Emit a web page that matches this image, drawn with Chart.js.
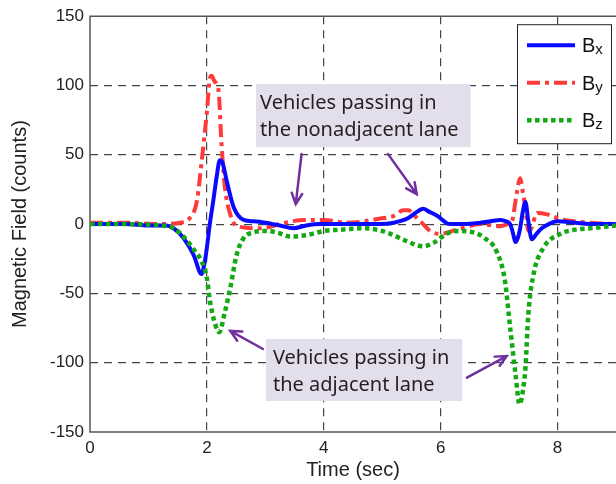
<!DOCTYPE html>
<html>
<head>
<meta charset="utf-8">
<script src="https://cdn.jsdelivr.net/npm/chart.js@4.4.1/dist/chart.umd.min.js"></script>
<style>
  html, body { margin: 0; padding: 0; background: #fff; }
</style>
</head>
<body>
<canvas id="chart" width="616" height="484"></canvas>
<script>
// time (sec) and field values (counts)
const timeBx = [0, 0.6, 1.0, 1.3, 1.43, 1.6, 1.77, 1.91, 1.96, 2.0, 2.05, 2.11, 2.17, 2.22, 2.26, 2.34, 2.46, 2.63, 2.8, 3.0, 3.25, 3.48, 3.7, 3.94, 4.3, 4.97, 5.2, 5.43, 5.6, 5.7, 5.8, 5.94, 6.16, 6.4, 6.68, 6.85, 7.02, 7.12, 7.19, 7.24, 7.28, 7.32, 7.36, 7.41, 7.45, 7.5, 7.56, 7.64, 7.73, 7.85, 7.99, 8.3, 8.56, 9.0];
const valBx  = [0, 0, -1, -1, -3, -10, -22, -36, -28, -17, 0, 17, 35, 46, 45, 31, 12, 3, 2, 1, -1, -3, -1, 0, 0, 0, 1, 4, 9, 11, 9, 6, 0, 0, 1, 2, 3, 2, 0, -7, -13, -10, -3, 10, 16, 2, -11, -7, -3, 0, 2, 1, 0, 0];

const timeBy = [0, 0.6, 1.2, 1.54, 1.71, 1.83, 1.91, 2.0, 2.05, 2.08, 2.13, 2.2, 2.25, 2.31, 2.4, 2.51, 2.91, 3.25, 3.45, 3.65, 4.0, 4.4, 4.97, 5.2, 5.36, 5.45, 5.53, 5.7, 5.82, 5.99, 6.28, 6.68, 7.02, 7.15, 7.22, 7.3, 7.36, 7.41, 7.45, 7.5, 7.55, 7.65, 7.82, 8.05, 8.56, 9.0];
const valBy  = [1, 1, 0, 1, 4.5, 17, 45, 81, 105, 107, 103, 96, 58, 26, 7, -1.5, -3, 0, 2, 3, 3, 1, 4, 6, 10, 10, 7, 0, -5, -7, -4, 0, -1.5, 0, 2, 22, 33, 22, 12, -5, -3, 8, 7, 3.6, 1, 0];

const timeBz = [0, 0.6, 1.2, 1.43, 1.6, 1.77, 1.91, 2.0, 2.05, 2.14, 2.21, 2.31, 2.4, 2.51, 2.63, 2.79, 3.0, 3.2, 3.42, 3.7, 4.0, 4.3, 4.67, 4.9, 5.14, 5.4, 5.7, 5.9, 6.1, 6.3, 6.56, 6.75, 6.96, 7.1, 7.19, 7.28, 7.35, 7.4, 7.45, 7.5, 7.59, 7.76, 8.05, 8.3, 8.56, 9.0];
const valBz  = [0, 0, -1, -3, -9, -18, -27, -39, -55, -72, -78, -63, -46, -22, -10, -6, -5, -6, -9, -8, -5, -4, -3, -4, -7, -12, -16, -13, -7, -5, -6, -10, -20, -41, -75, -108, -130, -122, -104, -65, -36, -17, -7, -4, -3, -1];

const seriesNames = ["x", "y", "z"];
const yTicks = [-150, -100, -50, 0, 50, 100, 150];
const xTicks = [0, 2, 4, 6, 8];

const noteLines = [
  ["Vehicles passing in", "the nonadjacent lane"],
  ["Vehicles passing in", "the adjacent lane"]
];

const pts = (ts, vs) => ts.map((t, i) => ({ x: t, y: vs[i] }));

const tickFont = { family: "'Liberation Sans', Arial, sans-serif", size: 17 };
const titleFont = { family: "'Liberation Sans', Arial, sans-serif", size: 20 };

// plot frame (left, top, bottom)
const framePlugin = {
  id: "frame",
  beforeDatasetsDraw(chart) {
    const { ctx, chartArea: a } = chart;
    ctx.save();
    ctx.strokeStyle = "#555";
    ctx.lineWidth = 1.5;
    ctx.beginPath();
    ctx.moveTo(a.right, a.top);
    ctx.lineTo(a.left, a.top);
    ctx.lineTo(a.left, a.bottom);
    ctx.lineTo(a.right, a.bottom);
    ctx.stroke();
    ctx.restore();
  }
};

function arrow(ctx, x0, y0, x1, y1) {
  const ang = Math.atan2(y1 - y0, x1 - x0);
  const h = 12;
  ctx.beginPath();
  ctx.moveTo(x0, y0);
  ctx.lineTo(x1, y1);
  ctx.moveTo(x1 - h * Math.cos(ang - 0.45), y1 - h * Math.sin(ang - 0.45));
  ctx.lineTo(x1, y1);
  ctx.lineTo(x1 - h * Math.cos(ang + 0.45), y1 - h * Math.sin(ang + 0.45));
  ctx.stroke();
}

const notesPlugin = {
  id: "notes",
  afterDatasetsDraw(chart) {
    const { ctx } = chart;
    const sx = chart.scales.x, sy = chart.scales.y;
    const X = v => sx.getPixelForValue(v), Y = v => sy.getPixelForValue(v);
    ctx.save();
    const boxes = [
      { x0: 2.84, x1: 6.51, y0: 101, y1: 55.5, tx: 2.91 },
      { x0: 3.01, x1: 6.37, y0: -82.9, y1: -127.6, tx: 3.13 }
    ];
    boxes.forEach((b, i) => {
      ctx.fillStyle = "#e2deeb";
      ctx.fillRect(X(b.x0), Y(b.y0), X(b.x1) - X(b.x0), Y(b.y1) - Y(b.y0));
      ctx.fillStyle = "#231f20";
      ctx.font = "20px 'Noto Sans', 'Open Sans', sans-serif";
      ctx.textBaseline = "middle";
      ctx.textAlign = "left";
      const top = Y(b.y0);
      ctx.fillText(noteLines[i][0], X(b.tx), top + 19);
      ctx.fillText(noteLines[i][1], X(b.tx), top + 46);
    });
    ctx.strokeStyle = "#7030a0";
    ctx.lineWidth = 2.5;
    ctx.lineCap = "round";
    arrow(ctx, X(3.62), Y(50.5), X(3.52), Y(14.4));
    arrow(ctx, X(5.10), Y(50.5), X(5.59), Y(21.6));
    arrow(ctx, X(2.96), Y(-90.1), X(2.40), Y(-77.1));
    arrow(ctx, X(6.45), Y(-110.8), X(7.13), Y(-95.2));
    ctx.restore();
  }
};

const legendPlugin = {
  id: "boxLegend",
  afterDraw(chart) {
    const { ctx, chartArea: a } = chart;
    const left = a.right - 99, top = a.top + 8, w = 94, h = 119;
    ctx.save();
    ctx.fillStyle = "#fff";
    ctx.fillRect(left, top, w, h);
    ctx.strokeStyle = "#222";
    ctx.lineWidth = 1;
    ctx.strokeRect(left + 0.5, top + 0.5, w, h);
    chart.data.datasets.forEach((ds, i) => {
      const y = top + 21 + i * 37.5;
      ctx.strokeStyle = ds.borderColor;
      ctx.lineWidth = ds.borderWidth;
      ctx.lineCap = "butt";
      ctx.setLineDash(ds.borderDash || []);
      ctx.beginPath();
      ctx.moveTo(left + 10, y);
      ctx.lineTo(left + 58, y);
      ctx.stroke();
      ctx.setLineDash([]);
      ctx.fillStyle = "#111";
      ctx.textBaseline = "alphabetic";
      ctx.textAlign = "left";
      ctx.font = "20px 'Liberation Sans', Arial, sans-serif";
      ctx.fillText("B", left + 65, y + 7);
      const bw = ctx.measureText("B").width;
      ctx.font = "15px 'Liberation Sans', Arial, sans-serif";
      ctx.fillText(seriesNames[i], left + 65 + bw, y + 9);
    });
    ctx.restore();
  }
};

new Chart(document.getElementById("chart").getContext("2d"), {
  type: "line",
  data: {
    datasets: [
      {
        label: "Bx",
        data: pts(timeBx, valBx),
        borderColor: "#0a0aff",
        borderWidth: 4,
        order: 2
      },
      {
        label: "By",
        data: pts(timeBy, valBy),
        borderColor: "#ff3a3a",
        borderWidth: 4,
        borderDash: [13, 5, 4, 5],
        order: 3
      },
      {
        label: "Bz",
        data: pts(timeBz, valBz),
        borderColor: "#14a814",
        borderWidth: 4.5,
        borderDash: [4.5, 3.5],
        order: 1
      }
    ]
  },
  options: {
    responsive: false,
    animation: false,
    devicePixelRatio: 1,
    layout: { padding: { top: 16, right: 0, bottom: 0, left: 0 } },
    elements: {
      point: { radius: 0 },
      line: { cubicInterpolationMode: "monotone", borderCapStyle: "butt", borderJoinStyle: "round" }
    },
    plugins: { legend: { display: false }, tooltip: { enabled: false } },
    scales: {
      x: {
        type: "linear",
        min: 0,
        max: 9,
        afterBuildTicks: s => { s.ticks = xTicks.map(v => ({ value: v })); },
        afterFit: s => { s.height = 52; },
        ticks: { font: tickFont, color: "#222", padding: 6, maxRotation: 0 },
        grid: {
          drawTicks: false,
          color: c => (c.tick && c.tick.value === 0 ? "rgba(0,0,0,0)" : "#444"),
          lineWidth: 1.2
        },
        border: { display: false, dash: [8, 6] },
        title: { display: true, text: "Time (sec)", font: titleFont, color: "#222", padding: { top: 0, bottom: 2 } }
      },
      y: {
        min: -150,
        max: 150,
        afterBuildTicks: s => { s.ticks = yTicks.map(v => ({ value: v })); },
        afterFit: s => { s.width = 90; },
        ticks: { font: tickFont, color: "#222", padding: 6 },
        grid: {
          drawTicks: false,
          color: c => (c.tick && Math.abs(c.tick.value) === 150 ? "rgba(0,0,0,0)" : "#444"),
          lineWidth: 1.2
        },
        border: { display: false, dash: [8, 6] },
        title: { display: true, text: "Magnetic Field (counts)", font: titleFont, color: "#222", padding: { top: 8, bottom: 0 } }
      }
    }
  },
  plugins: [framePlugin, notesPlugin, legendPlugin]
});
</script>
</body>
</html>
